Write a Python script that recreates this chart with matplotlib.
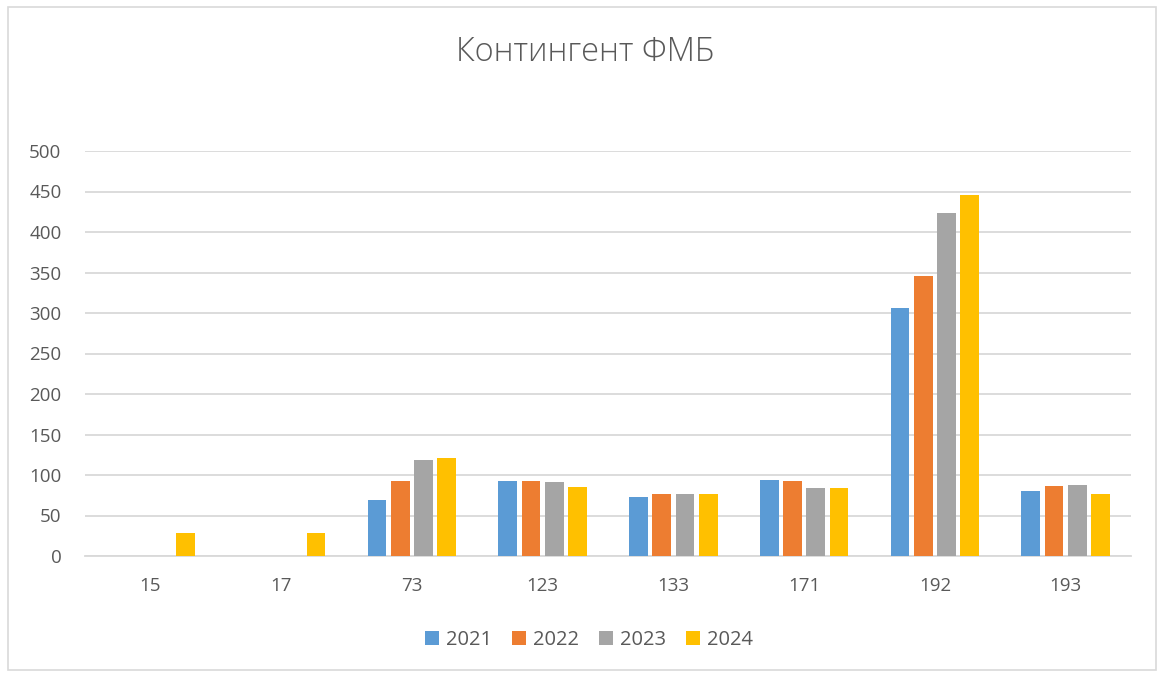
import matplotlib
matplotlib.use("Agg")
import matplotlib.pyplot as plt
import numpy as np
from matplotlib.patches import Rectangle

categories = ["15", "17", "73", "123", "133", "171", "192", "193"]
years = ["2021", "2022", "2023", "2024"]
v2021 = [0, 0, 69, 92, 73, 94, 306, 80]
v2022 = [0, 0, 92, 93, 76, 92, 346, 87]
v2023 = [0, 0, 119, 91, 76, 84, 424, 88]
v2024 = [28, 28, 121, 85, 76, 84, 446, 77]
series = [v2021, v2022, v2023, v2024]
colors = ["#5B9BD5", "#ED7D31", "#A5A5A5", "#FFC000"]

plt.rcParams['font.family'] = ['Open Sans', 'DejaVu Sans']

fig = plt.figure(figsize=(11.57, 6.75), dpi=100)
W, H = 1157, 675
ax = fig.add_axes([85 / W, 1 - 556 / H, (1131 - 85) / W, (556 - 151) / H])

x = np.arange(len(categories))
slot = 0.178
bw = 0.143
for i, (vals, c, yr) in enumerate(zip(series, colors, years)):
    ax.bar(x + (i - 1.5) * slot, vals, width=bw, color=c, label=yr, zorder=3)

ax.set_xlim(-0.5, len(categories) - 0.5)
ax.set_ylim(0, 500)
ax.set_yticks(range(0, 501, 50))
ax.set_xticks(x)
ax.set_xticklabels(categories)
ax.grid(axis='y', color='#D9D9D9', linewidth=1.3, zorder=0)
for s in ['top', 'right', 'left']:
    ax.spines[s].set_visible(False)
ax.spines['bottom'].set_color('#D9D9D9')
ax.spines['bottom'].set_linewidth(1.3)
ax.tick_params(axis='both', length=0, labelsize=13.5, colors='#595959')
ax.tick_params(axis='y', pad=17)
ax.tick_params(axis='x', pad=15)

fig.text(585 / W, 1 - 52 / H, "Контингент ФМБ", ha='center', va='center',
         fontsize=23.5, color='#595959', fontweight='light')

leg = fig.legend(loc='center', bbox_to_anchor=(589 / W, 1 - 640 / H), ncol=4,
                 frameon=False, fontsize=14.5, handlelength=0.68, handleheight=0.68,
                 handletextpad=0.35, columnspacing=1.0)
for t in leg.get_texts():
    t.set_color('#595959')

fig.patches.append(Rectangle((8 / W, 1 - 670 / H), (1156 - 8) / W, (670 - 7) / H,
                             transform=fig.transFigure, fill=False,
                             edgecolor='#D9D9D9', linewidth=1.2))

fig.savefig("out.png", dpi=100)
